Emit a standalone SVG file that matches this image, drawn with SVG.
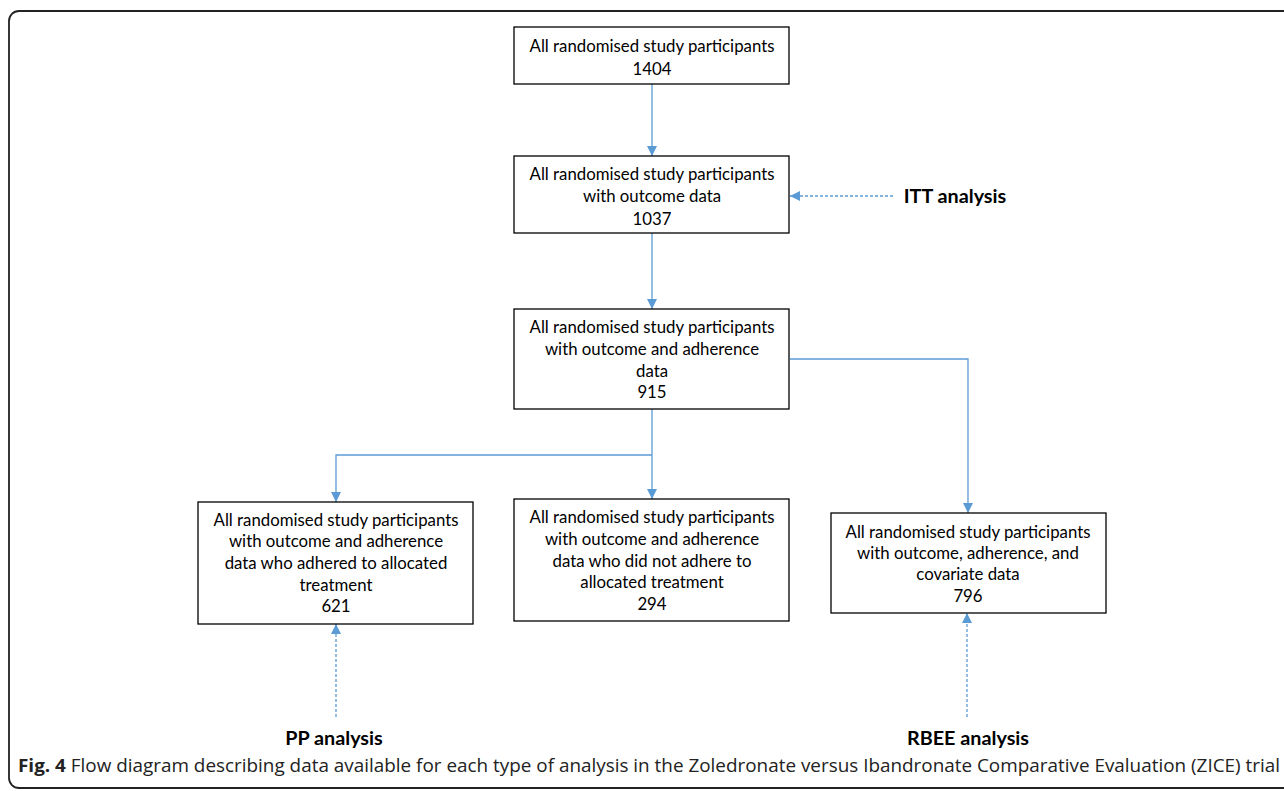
<svg xmlns="http://www.w3.org/2000/svg" width="1284" height="791" viewBox="0 0 1284 791">
<defs>
<style>
.box{fill:#fff;stroke:#000;stroke-width:1.3}
.t{font-family:Lato,"Liberation Sans",Arial,sans-serif;font-size:16.8px;fill:#000;text-anchor:middle}
.lbl{font-family:Lato,"Liberation Sans",Arial,sans-serif;font-size:19.8px;font-weight:bold;fill:#000;text-anchor:middle}
.cap{font-family:"Open Sans","Liberation Sans",Arial,sans-serif;font-size:18px;fill:#222}
.c{fill:none;stroke:#5b9bd5;stroke-width:1.3}
.d{fill:none;stroke:#5b9bd5;stroke-width:1.3;stroke-dasharray:3 2}
</style>
<marker id="ah" viewBox="0 0 10 10" refX="10" refY="5" markerWidth="10" markerHeight="10" markerUnits="userSpaceOnUse" orient="auto">
<path d="M0,0 L10,5 L0,10 Z" fill="#5b9bd5"/>
</marker>
</defs>
<rect x="0" y="0" width="1284" height="791" fill="#fff"/>
<rect x="9" y="11" width="1300" height="777" rx="10" ry="10" fill="none" stroke="#222" stroke-width="1.8"/>

<g id="connectors">
<line class="c" x1="652" y1="84" x2="652" y2="156" marker-end="url(#ah)"/>
<line class="c" x1="652" y1="233" x2="652" y2="309" marker-end="url(#ah)"/>
<line class="c" x1="652" y1="409" x2="652" y2="499" marker-end="url(#ah)"/>
<polyline class="c" points="652,455 336,455 336,502" marker-end="url(#ah)"/>
<polyline class="c" points="790,359 968,359 968,513" marker-end="url(#ah)"/>
<line class="d" x1="893" y1="196" x2="790" y2="196" marker-end="url(#ah)"/>
<line class="d" x1="336" y1="717" x2="336" y2="624" marker-end="url(#ah)"/>
<line class="d" x1="967" y1="717" x2="967" y2="613" marker-end="url(#ah)"/>
</g>

<g id="n1">
<rect class="box" x="514" y="27" width="275" height="57"/>
<text class="t" x="652" y="52">All randomised study participants</text>
<text class="t" x="652" y="75">1404</text>
</g>
<g id="n2">
<rect class="box" x="514" y="156" width="275" height="77"/>
<text class="t" x="652" y="180">All randomised study participants</text>
<text class="t" x="652" y="202">with outcome data</text>
<text class="t" x="652" y="225">1037</text>
</g>
<g id="n3">
<rect class="box" x="514" y="309" width="275" height="100"/>
<text class="t" x="652" y="333">All randomised study participants</text>
<text class="t" x="652" y="355">with outcome and adherence</text>
<text class="t" x="652" y="377">data</text>
<text class="t" x="652" y="398">915</text>
</g>
<g id="n4">
<rect class="box" x="198" y="502" width="275" height="122"/>
<text class="t" x="336" y="526">All randomised study participants</text>
<text class="t" x="336" y="547">with outcome and adherence</text>
<text class="t" x="336" y="569">data who adhered to allocated</text>
<text class="t" x="336" y="591">treatment</text>
<text class="t" x="336" y="612">621</text>
</g>
<g id="n5">
<rect class="box" x="514" y="499" width="275" height="122"/>
<text class="t" x="652" y="523">All randomised study participants</text>
<text class="t" x="652" y="545">with outcome and adherence</text>
<text class="t" x="652" y="567">data who did not adhere to</text>
<text class="t" x="652" y="588">allocated treatment</text>
<text class="t" x="652" y="610">294</text>
</g>
<g id="n6">
<rect class="box" x="831" y="513" width="275" height="100"/>
<text class="t" x="968" y="538">All randomised study participants</text>
<text class="t" x="968" y="559">with outcome, adherence, and</text>
<text class="t" x="968" y="580">covariate data</text>
<text class="t" x="968" y="602">796</text>
</g>

<g id="itt"><text class="lbl" x="955" y="203">ITT analysis</text></g>
<g id="pp"><text class="lbl" x="334" y="745">PP analysis</text></g>
<g id="rbee"><text class="lbl" x="968" y="745">RBEE analysis</text></g>

<text class="cap" x="18" y="772" textLength="1262" lengthAdjust="spacingAndGlyphs"><tspan font-weight="bold">Fig. 4</tspan> Flow diagram describing data available for each type of analysis in the Zoledronate versus Ibandronate Comparative Evaluation (ZICE) trial</text>
</svg>
